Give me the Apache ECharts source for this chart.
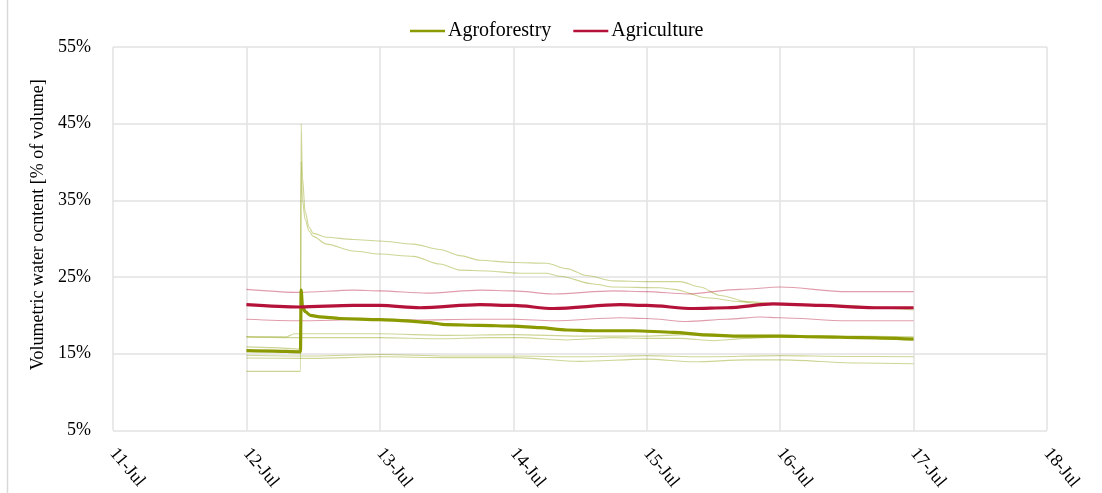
<!DOCTYPE html>
<html>
<head>
<meta charset="utf-8">
<script src="https://cdn.jsdelivr.net/npm/echarts@6/dist/echarts.min.js"></script>
<style>
  html, body { margin: 0; padding: 0; background: #fff; }
  #chart { width: 1102px; height: 493px; }
</style>
</head>
<body>
<div id="chart"></div>
<script>
// Soil moisture, July: time is given as day of month (fractional), values in % of volume.
const xTicks = [11, 12, 13, 14, 15, 16, 17, 18];
const yTicks = [5, 15, 25, 35, 45, 55];

// Agroforestry plot: mean of sensors
const agroforestryMean = [[12.0,15.4],[12.2,15.35],[12.4,15.25],[12.405,15.3],[12.41,23.3],[12.42,21.2],[12.44,20.5],[12.48,20.0],[12.55,19.8],[12.7,19.6],[13.0,19.45],[13.2,19.3],[13.35,19.1],[13.5,18.8],[13.75,18.7],[14.0,18.6],[14.2,18.4],[14.4,18.1],[14.6,18.0],[14.9,18.0],[15.2,17.8],[15.45,17.45],[15.7,17.3],[16.0,17.3],[16.3,17.2],[16.6,17.1],[17.0,16.9]];
// Agroforestry plot: single sensors
const afSensor1 = [[12.0,12.7],[12.405,12.7],[12.41,45.0],[12.42,38.0],[12.44,33.5],[12.47,31.5],[12.5,30.7],[12.6,30.2],[12.8,29.9],[13.0,29.7],[13.25,29.3],[13.45,28.6],[13.6,27.8],[13.75,27.2],[14.0,26.9],[14.25,26.8],[14.4,26.1],[14.55,25.2],[14.75,24.5],[15.0,24.4],[15.25,24.4],[15.4,23.7],[15.55,22.6],[15.75,21.8],[16.0,21.5],[16.3,21.4],[16.55,21.3],[16.7,21.0],[17.0,20.7]];
const afSensor2 = [[12.0,15.9],[12.2,15.8],[12.405,15.6],[12.41,40.0],[12.42,35.0],[12.44,32.5],[12.47,31.0],[12.5,30.3],[12.6,29.3],[12.8,28.4],[13.0,28.0],[13.25,27.7],[13.45,26.7],[13.6,25.9],[13.8,25.8],[14.05,25.5],[14.25,25.5],[14.35,25.1],[14.6,24.1],[14.75,23.7],[15.1,23.6],[15.2,23.4],[15.45,22.3],[15.7,21.8],[15.85,21.5],[16.0,21.4],[16.5,21.2],[17.0,20.9]];
const afSensor3 = [[12.0,17.2],[12.3,17.2],[12.36,17.6],[12.7,17.6],[13.0,17.6],[13.5,17.4],[14.0,17.5],[14.5,17.3],[15.0,17.3],[15.3,17.5],[15.5,17.3],[16.0,17.4],[16.5,17.3],[17.0,17.2]];
const afSensor4 = [[12.0,17.2],[12.4,17.1],[12.7,17.1],[13.0,17.1],[13.45,16.95],[13.8,17.1],[14.05,17.1],[14.4,16.8],[14.75,17.1],[15.0,17.0],[15.25,17.0],[15.5,16.7],[15.75,17.0],[16.0,17.2],[16.5,17.1],[17.0,16.9]];
const afSensor5 = [[12.0,14.8],[12.4,14.7],[12.5,14.7],[13.0,14.9],[13.5,14.7],[14.0,14.7],[14.5,14.6],[15.0,14.75],[15.4,14.6],[16.0,14.75],[16.5,14.65],[17.0,14.6]];
const afSensor6 = [[12.0,14.45],[12.4,14.4],[12.5,14.4],[13.0,14.6],[13.5,14.5],[14.0,14.5],[14.5,14.0],[15.0,14.3],[15.35,13.95],[15.75,14.2],[16.0,14.2],[16.6,13.8],[17.0,13.7]];

// Agriculture plot: mean and single sensors
const agricultureMean = [[12.0,21.4],[12.4,21.1],[12.8,21.3],[13.0,21.3],[13.3,21.0],[13.75,21.4],[14.0,21.3],[14.3,20.9],[14.8,21.4],[15.0,21.3],[15.35,20.9],[15.6,21.0],[15.95,21.5],[16.3,21.3],[16.7,21.0],[17.0,21.0]];
const agSensorHigh = [[12.0,23.4],[12.4,23.0],[12.8,23.3],[13.0,23.2],[13.35,22.9],[13.75,23.3],[14.0,23.2],[14.3,22.8],[14.75,23.2],[15.0,23.1],[15.3,22.8],[15.7,23.4],[16.0,23.7],[16.5,23.1],[17.0,23.1]];
const agSensorLow = [[12.0,19.5],[12.4,19.3],[13.0,19.5],[13.3,19.4],[13.7,19.5],[14.0,19.5],[14.3,19.3],[14.8,19.7],[15.0,19.6],[15.3,19.2],[15.6,19.5],[15.85,19.8],[16.0,19.7],[16.5,19.3],[17.0,19.3]];

const OLIVE = '#8a9a00';
const CRIMSON = '#b5123a';
const FONT = '"Liberation Serif", "Times New Roman", serif';

function thin(name, data, color) {
  return {
    name, type: 'line', data, showSymbol: false, smooth: 0.3, smoothMonotone: 'x',
    lineStyle: { color, width: 1.1, opacity: 0.42 }, itemStyle: { color },
    silent: true, z: 2
  };
}
function thick(name, data, color) {
  return {
    name, type: 'line', data, showSymbol: false, smooth: 0.3, smoothMonotone: 'x',
    lineStyle: { color, width: 3.2 }, itemStyle: { color }, z: 3
  };
}

const chart = echarts.init(document.getElementById('chart'), null, { renderer: 'canvas' });
chart.setOption({
  animation: false,
  backgroundColor: '#fff',
  textStyle: { fontFamily: FONT, color: '#000' },
  grid: { left: 113, right: 55, top: 47, bottom: 61 },
  // thin frame line along the left edge of the chart area
  graphic: [{
    type: 'line', shape: { x1: 7.5, y1: 0, x2: 7.5, y2: 493 },
    style: { stroke: '#d9d9d9', lineWidth: 1.5 }, silent: true
  }],
  legend: {
    data: ['Agroforestry', 'Agriculture'],
    top: 21, left: 410, padding: 0,
    icon: 'rect', itemWidth: 35, itemHeight: 2.5, itemGap: 22,
    textStyle: { fontFamily: FONT, fontSize: 20, color: '#000', padding: [0, 0, 0, -2] }
  },
  xAxis: {
    type: 'value', min: xTicks[0], max: xTicks[xTicks.length - 1], interval: 1,
    axisLine: { show: false }, axisTick: { show: false },
    splitLine: { show: true, lineStyle: { color: '#e2e2e2', width: 1.5 } },
    axisLabel: {
      formatter: v => v + '-Jul', rotate: -50, margin: 20,
      fontFamily: FONT, fontSize: 18, color: '#000'
    }
  },
  yAxis: {
    type: 'value', min: yTicks[0], max: yTicks[yTicks.length - 1], interval: 10,
    name: 'Volumetric water ocntent [% of volume]', nameLocation: 'middle', nameGap: 48,
    nameTextStyle: { fontFamily: FONT, fontSize: 18, color: '#000', padding: [0, 0, 0, 28] },
    axisLine: { show: false }, axisTick: { show: false },
    splitLine: { show: true, lineStyle: { color: '#e2e2e2', width: 1.5 } },
    axisLabel: { formatter: v => v + '%', margin: 22, fontFamily: FONT, fontSize: 18, color: '#000' }
  },
  series: [
    thin('Agroforestry sensor 1', afSensor1, OLIVE),
    thin('Agroforestry sensor 2', afSensor2, OLIVE),
    thin('Agroforestry sensor 3', afSensor3, OLIVE),
    thin('Agroforestry sensor 4', afSensor4, OLIVE),
    thin('Agroforestry sensor 5', afSensor5, OLIVE),
    thin('Agroforestry sensor 6', afSensor6, OLIVE),
    thin('Agriculture sensor 1', agSensorHigh, CRIMSON),
    thin('Agriculture sensor 2', agSensorLow, CRIMSON),
    thick('Agroforestry', agroforestryMean, OLIVE),
    thick('Agriculture', agricultureMean, CRIMSON)
  ]
});
</script>
</body>
</html>
